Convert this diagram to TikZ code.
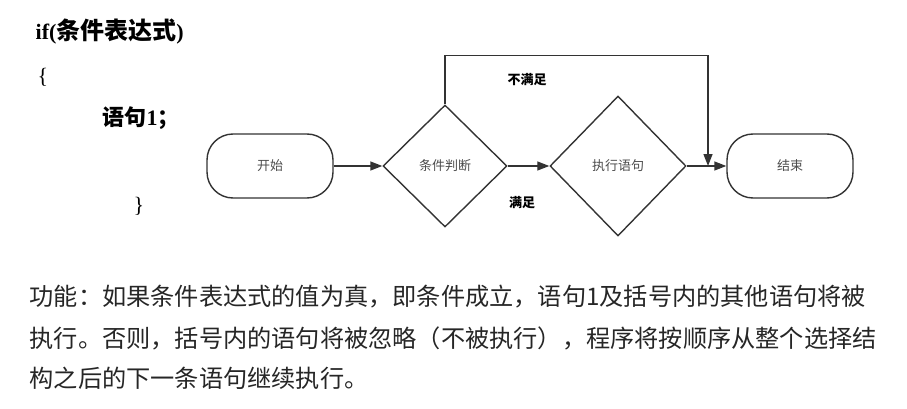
\documentclass[tikz,border=0pt]{standalone}
\usepackage{fontspec}
\usetikzlibrary{arrows.meta,positioning,shapes.geometric}
\setmainfont{Liberation Serif}
\newfontfamily\cjk{Noto Sans CJK SC}
\definecolor{flowgray}{RGB}{51,51,51}

\begin{document}
\begin{tikzpicture}[x=1pt,y=-1pt,line width=1.4pt,draw=flowgray,
      every node/.style={font=\cjk\fontsize{13}{15}\selectfont,text=black!70},
      term/.style={draw,rounded corners=26pt,minimum width=126pt,minimum height=64pt},
      cond/.style={draw,diamond,aspect=1,inner sep=0pt,minimum width=124pt,minimum height=122pt},
      lbl/.style={font=\cjk\bfseries\fontsize{13}{15}\selectfont,text=black},
      code/.style={anchor=west,inner sep=0pt,text=black,font=\fontsize{22}{26}\selectfont},
      para/.style={anchor=west,inner sep=0pt,text=black!85,font=\cjk\fontsize{24.2}{28}\selectfont},
      arr/.style={-{Triangle[length=12pt,width=9pt]}}]
    \useasboundingbox (0,0) rectangle (907,409);
    % code text
    \node[code] (head)  at (35,32)  {\bfseries if({\cjk\fontsize{24}{28}\selectfont 条件表达式})};
    \node[code] (open)  at (37,77)  {\{};
    \node[code] (stmt)  at (102,118) {\bfseries{\cjk 语句}1{\cjk ；}};
    \node[code] (close) at (133,206) {\}};
    % flow chart
    \node[term] (start) at (270,166) {开始};
    \node[cond] (judge) at (445,166) {条件判断};
    \node[cond,minimum width=136pt,minimum height=140pt] (exec) at (618,166) {执行语句};
    \node[term] (end) at (790,166) {结束};
    \coordinate (join) at (708,166);
    \foreach \a/\b in {start/judge,judge/exec,exec/end}{\draw[arr](\a)--(\b);}
    \draw[arr] (judge.north) -- ++(0,-49) -| (join);
    % branch labels
    \node[lbl] (no)  at (527,80)  {不满足};
    \node[lbl] (yes) at (522,203) {满足};
    % description
    \node[para] (l1) at (29,297) {功能：如果条件表达式的值为真，即条件成立，语句1及括号内的其他语句将被};
    \node[para] (l2) at (29,338) {执行。否则，括号内的语句将被忽略（不被执行），程序将按顺序从整个选择结};
    \node[para] (l3) at (29,378) {构之后的下一条语句继续执行。};
  \end{tikzpicture}
\end{document}
